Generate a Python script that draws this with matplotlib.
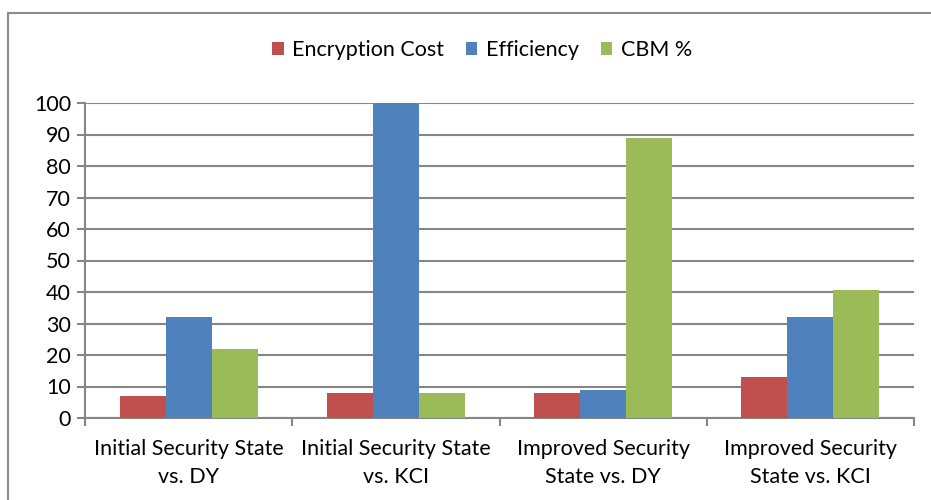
import numpy as np
import matplotlib.pyplot as plt
from matplotlib.patches import Rectangle

# ------------------------------------------data------------------------------------------
categories = ["Initial Security State\nvs. DY", "Initial Security State\nvs. KCI",
              "Improved Security\nState vs. DY", "Improved Security\nState vs. KCI"]
encryption_cost = [7, 8, 8, 13]
efficiency = [32, 100, 9, 32]
cbm = [22, 8, 89, 40.5]
series_names = ["Encryption Cost", "Efficiency", "CBM %"]
series_colors = ["#C0504D", "#4F81BD", "#9BBB59"]
y_ticks = list(range(0, 101, 10))

plt.rcParams['font.family'] = ['Lato', 'DejaVu Sans']
fs = 15.5

# ------------------------------------------chart------------------------------------------
fig = plt.figure(figsize=(9.31, 5.0), dpi=100)
ax = fig.add_axes([85 / 931, 1 - 418 / 500, (914 - 85) / 931, (418 - 103) / 500])

x = np.arange(len(categories))
w = 1 / 4.5   # gap width 150%
for i, (vals, name, col) in enumerate(zip([encryption_cost, efficiency, cbm], series_names, series_colors)):
    ax.bar(x + (i - 1) * w, vals, width=w, color=col, label=name, zorder=3)

ax.set_xlim(-0.5, len(categories) - 0.5)
ax.set_ylim(0, 100)
ax.set_yticks(y_ticks)
ax.yaxis.grid(True, color='#868686', linewidth=1.5, zorder=0)
ax.set_axisbelow(True)

# category ticks sit on the boundaries between groups
ax.set_xticks(np.arange(len(categories) + 1) - 0.5)
ax.set_xticklabels([])
ax.set_xticks(x, minor=True)
ax.set_xticklabels(categories, minor=True, fontsize=fs, linespacing=1.5)
ax.tick_params(axis='x', which='minor', length=0, pad=15)
ax.tick_params(axis='x', which='major', length=6, width=1.5, color='#868686')
ax.tick_params(axis='y', length=6, width=1.5, color='#868686', labelsize=fs, pad=4)

for side in ['top', 'right']:
    ax.spines[side].set_visible(False)
for side in ['left', 'bottom']:
    ax.spines[side].set_color('#868686')
    ax.spines[side].set_linewidth(1.5)

fig.legend(loc='center', bbox_to_anchor=(482 / 931, 1 - 50 / 500), ncol=3, frameon=False,
           fontsize=fs, handlelength=0.55, handleheight=0.55, handletextpad=0.4, columnspacing=1.0)

# chart area border
fig.add_artist(Rectangle((8 / 931, -0.1), 2, 1 - 13 / 500 + 0.1, transform=fig.transFigure,
                         fill=False, edgecolor='#8c8c8c', linewidth=1.5))

plt.savefig('out.png', dpi=100)
